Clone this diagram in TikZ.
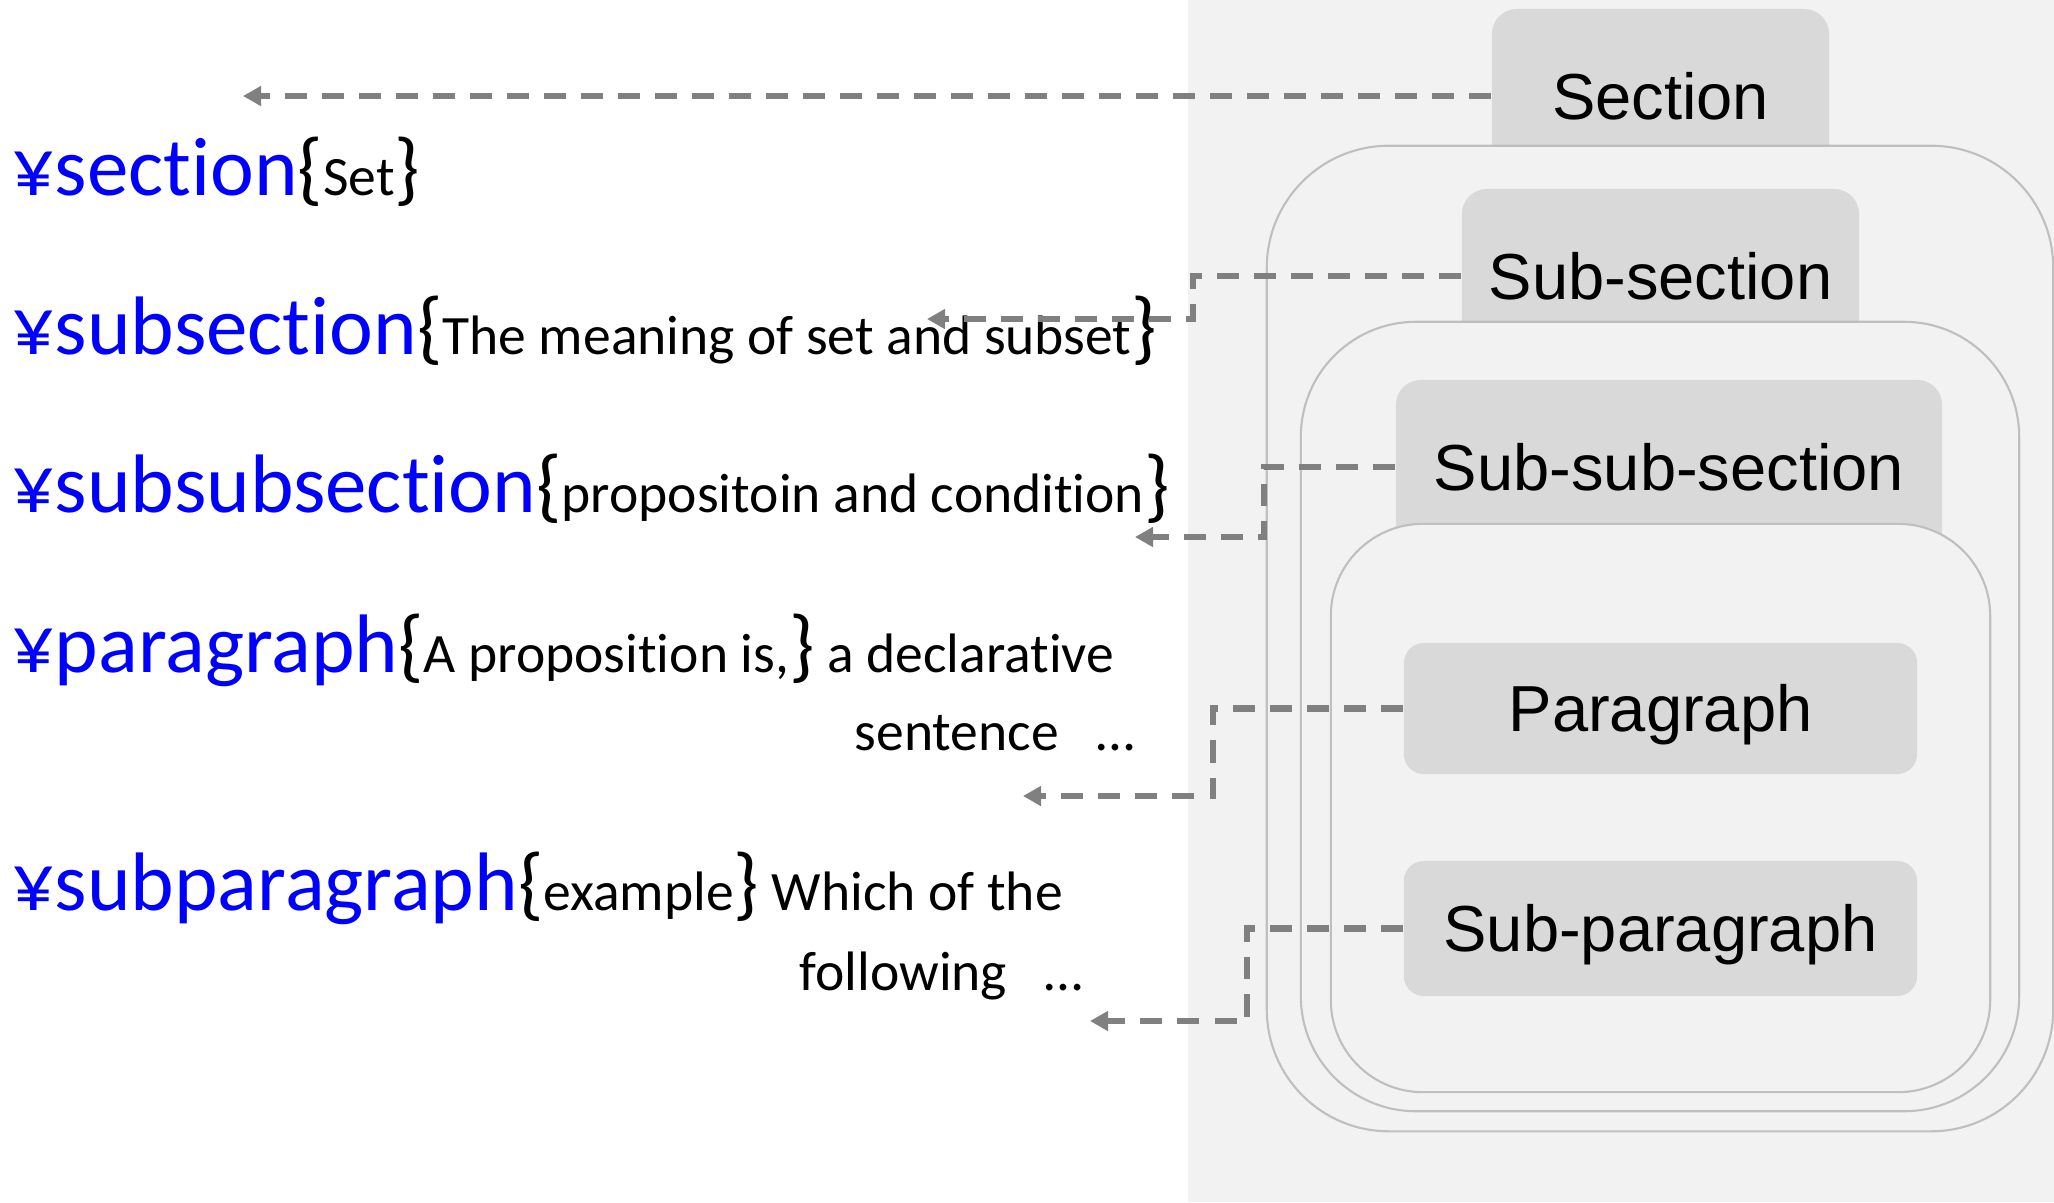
\documentclass[tikz,border=0pt]{standalone}
\usepackage{fontspec}
\usetikzlibrary{arrows.meta}
\newfontfamily\calfont[RawFeature={-liga}]{Carlito}
\newfontfamily\arlfont{Liberation Sans}
\definecolor{panel}{HTML}{F2F2F2}
\definecolor{tabfill}{HTML}{D9D9D9}
\definecolor{frame}{HTML}{BFBFBF}
\definecolor{linkgray}{HTML}{808080}
\definecolor{cmdblue}{HTML}{0000FF}
% command names in blue, braces at nearly the command size
\newcommand\cmdname[1]{{\color{cmdblue}\fontsize{23.6pt}{28pt}\selectfont #1}}
\newcommand\lbr{{\fontsize{23pt}{27pt}\selectfont\{}}
\newcommand\rbr{{\fontsize{23pt}{27pt}\selectfont\}}}
\tikzset{
  level tab/.style={fill=tabfill, rounded corners=0.25cm, minimum height=1.74cm,
    inner sep=0pt, text height=0.466cm, text depth=0cm,
    font=\arlfont\fontsize{18.5pt}{22pt}\selectfont},
  para box/.style={fill=tabfill, rounded corners=0.2cm, minimum width=5.13cm,
    minimum height=1.31cm, inner sep=0pt, text height=0.466cm, text depth=0cm,
    font=\arlfont\fontsize{18.5pt}{22pt}\selectfont},
  container/.style={draw=frame, fill=panel, line width=0.6pt, inner sep=0pt},
  link/.style={draw=linkgray, line width=1.85pt, dash pattern=on 0.22cm off 0.15cm,
    -{Triangle[length=0.18cm,width=0.19cm]}},
  code line/.style={anchor=base west, inner sep=0pt,
    font=\calfont\fontsize{15.8pt}{19pt}\selectfont}
}
\begin{document}
\begin{tikzpicture}[x=0.01cm, y=-0.01cm]
\useasboundingbox (0,0) rectangle (2054,1202);
\fill[white] (0,0) rectangle (2054,1202);
\fill[panel] (1188,0) rectangle (2054,1202);

% nested levels: each tab is partly covered by the frame that follows it
\node[level tab, minimum width=3.37cm] (sec) at (1660.5,96) {Section};
\node[container, rounded corners=1.22cm, minimum width=7.86cm, minimum height=9.85cm] (secbox) at (1660,638.5) {};
\node[level tab, minimum width=3.97cm] (subsec) at (1660.5,276) {Sub-section};
\node[container, rounded corners=1.15cm, minimum width=7.18cm, minimum height=7.89cm] (subsecbox) at (1660,716.5) {};
\node[level tab, minimum width=5.46cm] (subsub) at (1669,467) {Sub-sub-section};
\node[container, rounded corners=0.92cm, minimum width=6.59cm, minimum height=5.68cm] (subsubbox) at (1660.5,808) {};
\node[para box] (para) at (1660.5,708.5) {Paragraph};
\node[para box, minimum height=1.35cm] (subpara) at (1660.5,928.5) {Sub-paragraph};

% source lines
\node[code line] (l1) at (12,195) {\cmdname{¥section}\lbr Set\rbr};
\node[code line] (l2) at (12,354) {\cmdname{¥subsection}\lbr The meaning of set and subset\rbr};
\node[code line] (l3) at (12,512) {\cmdname{¥subsubsection}\lbr propositoin and condition\rbr};
\node[code line] (l4) at (12,672) {\cmdname{¥paragraph}\lbr A proposition is,\rbr\ a declarative};
\node[code line] (l4b) at (854,750) {sentence\ \ \ …};
\node[code line] (l5) at (12,910) {\cmdname{¥subparagraph}\lbr example\rbr\ Which of the};
\node[code line] (l5b) at (799,990) {following\ \ \ …};

% connectors from each level to its command
\coordinate (t1) at (243,96);
\draw[link] (sec.west) -- (t1);
\coordinate (k2) at (1193,319); \coordinate (t2) at (927,319);
\draw[link] (subsec.west) -| (k2) -- (t2);
\coordinate (k3) at (1264,537); \coordinate (t3) at (1135,537);
\draw[link] (subsub.west) -| (k3) -- (t3);
\coordinate (k4) at (1213,796); \coordinate (t4) at (1023,796);
\draw[link] (para.west) -| (k4) -- (t4);
\coordinate (k5) at (1247,1021); \coordinate (t5) at (1090,1021);
\draw[link] (subpara.west) -| (k5) -- (t5);
\end{tikzpicture}
\end{document}
